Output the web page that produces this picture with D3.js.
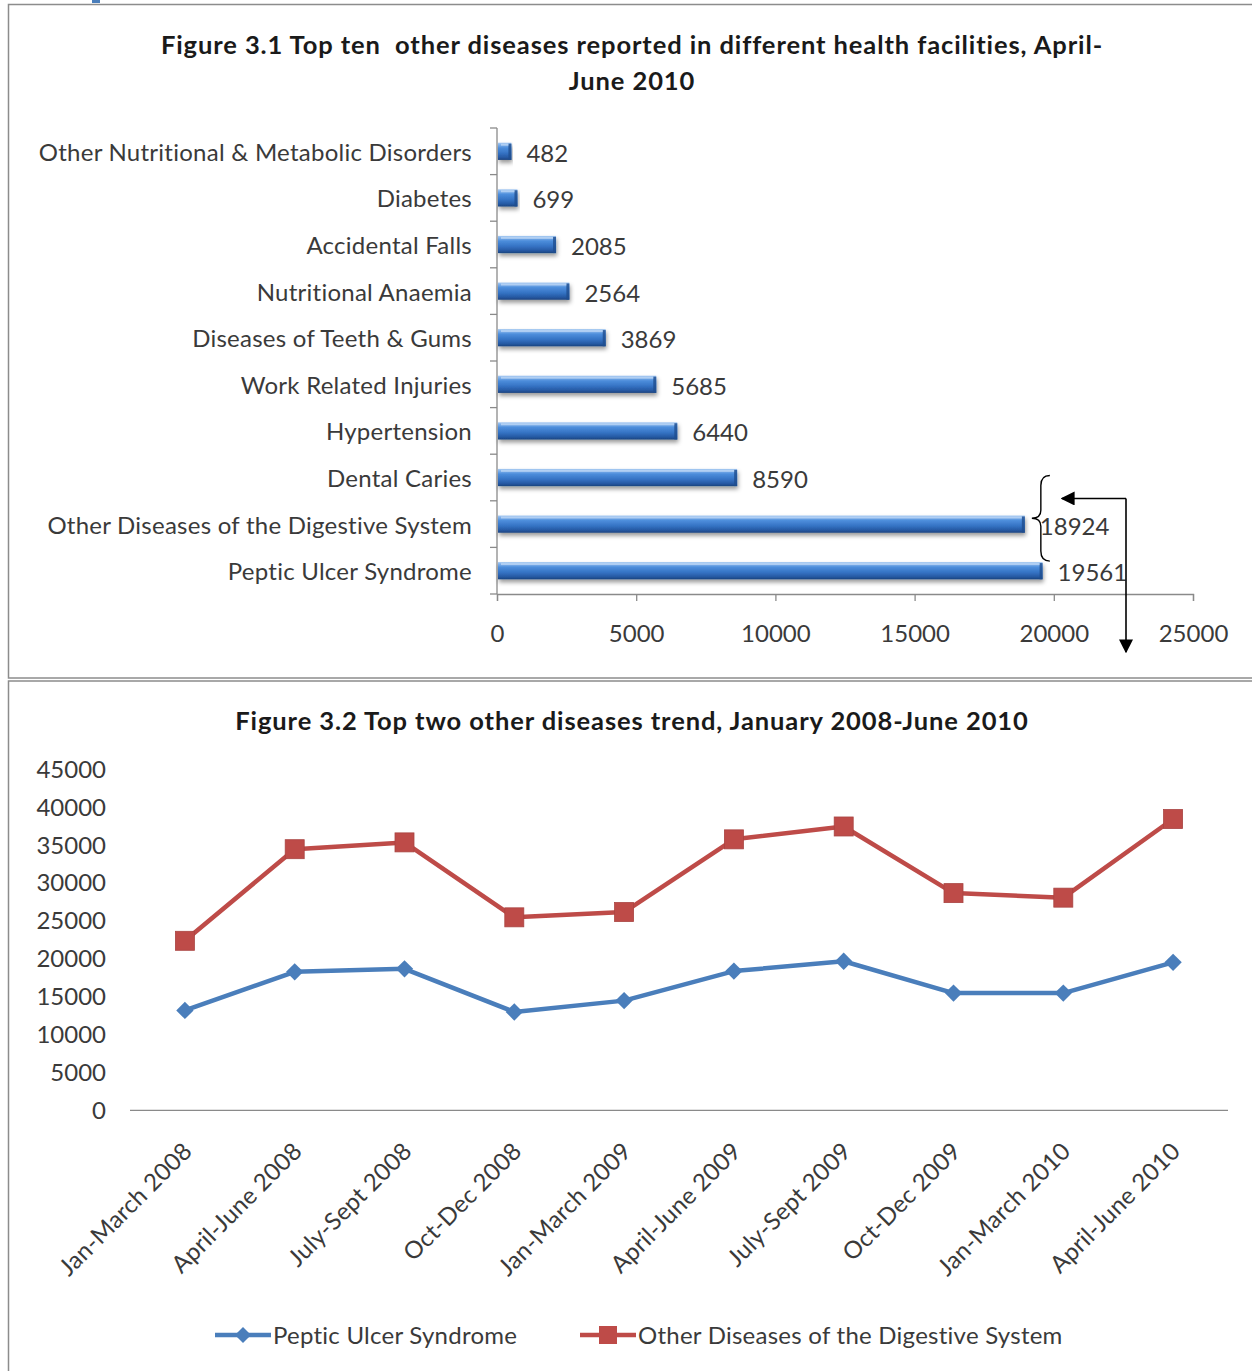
<!DOCTYPE html>
<html>
<head>
<meta charset="utf-8">
<script src="https://cdn.jsdelivr.net/npm/d3@7/dist/d3.min.js"></script>
<style>
  html, body { margin: 0; padding: 0; background: #fff; }
  svg { display: block; }
  text { font-family: Lato, "Open Sans", sans-serif; }
</style>
</head>
<body>
<svg id="page" width="1252" height="1371"></svg>
<script>
// ---- Figure 3.1 data: top ten other diseases, April-June 2010 ----
const diseases = [
  "Other Nutritional & Metabolic Disorders",
  "Diabetes",
  "Accidental Falls",
  "Nutritional Anaemia",
  "Diseases of Teeth & Gums",
  "Work Related Injuries",
  "Hypertension",
  "Dental Caries",
  "Other Diseases of the Digestive System",
  "Peptic Ulcer Syndrome"
];
const diseaseCases = [482, 699, 2085, 2564, 3869, 5685, 6440, 8590, 18924, 19561];
const barTicks = [0, 5000, 10000, 15000, 20000, 25000];

// ---- Figure 3.2 data: quarterly trend of the top two, stacked ----
const periods = [
  "Jan-March 2008", "April-June 2008", "July-Sept 2008", "Oct-Dec 2008",
  "Jan-March 2009", "April-June 2009", "July-Sept 2009", "Oct-Dec 2009",
  "Jan-March 2010", "April-June 2010"
];
const pepticUlcer = [13200, 18300, 18700, 13000, 14500, 18400, 19700, 15500, 15500, 19561];
const otherDigestive = [9200, 16200, 16700, 12500, 11700, 17400, 17800, 13200, 12600, 18924];
const trendTicks = [0, 5000, 10000, 15000, 20000, 25000, 30000, 35000, 40000, 45000];
const seriesNames = ["Peptic Ulcer Syndrome", "Other Diseases of the Digestive System"];

const svg = d3.select("#page");
const textColor = "#3a3a3a";
const axisColor = "#8a8a8a";
const labelSize = 24;
const labelSpacing = 0.25;
const titleSize = 25.5;
const titleSpacing = 0.9;

// ---- defs: bar gradient, bar shadow, arrow head ----
const defs = svg.append("defs");
const grad = defs.append("linearGradient").attr("id", "barGrad")
  .attr("x1", 0).attr("y1", 0).attr("x2", 0).attr("y2", 1);
[[0, "#a9cbf2"], [0.12, "#7fb0ea"], [0.3, "#4c8ddb"], [0.6, "#3573c4"], [0.85, "#2659a3"], [1, "#1b447f"]]
  .forEach(([o, c]) => grad.append("stop").attr("offset", o).attr("stop-color", c));
const shadow = defs.append("filter").attr("id", "barShadow")
  .attr("x", "-5%").attr("y", "-50%").attr("width", "115%").attr("height", "250%");
shadow.append("feDropShadow").attr("dx", 1).attr("dy", 3).attr("stdDeviation", 2)
  .attr("flood-color", "#000").attr("flood-opacity", 0.4);
defs.append("marker").attr("id", "arrowHead")
  .attr("viewBox", "0 0 10 10").attr("refX", 9).attr("refY", 5)
  .attr("markerWidth", 14).attr("markerHeight", 14).attr("markerUnits", "userSpaceOnUse")
  .attr("orient", "auto")
  .append("path").attr("d", "M0,0 L10,5 L0,10 Z").attr("fill", "#000");

// small page fragment above the frames
svg.append("rect").attr("x", 92).attr("y", 0).attr("width", 8).attr("height", 3).attr("fill", "#4a7ebb");

// panel frames
svg.append("rect").attr("x", 8.5).attr("y", 4.5).attr("width", 1260).attr("height", 673.5)
  .attr("fill", "#fff").attr("stroke", "#8c8c8c").attr("stroke-width", 1.5);
svg.append("rect").attr("x", 8.5).attr("y", 681).attr("width", 1260).attr("height", 700)
  .attr("fill", "#fff").attr("stroke", "#8c8c8c").attr("stroke-width", 1.5);

function title(g, y, s) {
  g.append("text").attr("x", 632).attr("y", y).attr("text-anchor", "middle")
    .attr("dominant-baseline", "central").attr("font-size", titleSize).attr("font-weight", "bold")
    .attr("letter-spacing", titleSpacing).attr("fill", "#1a1a1a")
    .style("white-space", "pre").text(s);
}

// ================= Figure 3.1: horizontal bar chart =================
const g1 = svg.append("g");
title(g1, 43.5, "Figure 3.1 Top ten  other diseases reported in different health facilities, April-");
title(g1, 79.5, "June 2010");

const xBar = d3.scaleLinear().domain([0, 25000]).range([497, 1193]);
const yBar = d3.scaleBand().domain(diseases).range([128, 594]).paddingInner(0.63).paddingOuter(0.315);

// category axis: vertical line with ticks at band boundaries
g1.append("line").attr("x1", 497).attr("x2", 497).attr("y1", 128).attr("y2", 594)
  .attr("stroke", axisColor).attr("stroke-width", 1.3);
const step = yBar.step();
const boundaries = d3.range(diseases.length + 1).map(i => 128 + i * step);
g1.selectAll(".ytick").data(boundaries).join("line")
  .attr("x1", 490).attr("x2", 497).attr("y1", d => d).attr("y2", d => d)
  .attr("stroke", axisColor).attr("stroke-width", 1.3);

// value axis
const xAxis1 = d3.axisBottom(xBar).tickValues(barTicks).tickSize(7).tickPadding(27).tickFormat(d3.format("d"));
const ax1 = g1.append("g").attr("transform", "translate(0,594)").call(xAxis1);
ax1.select(".domain").attr("stroke", axisColor).attr("stroke-width", 1.3);
ax1.selectAll(".tick line").attr("stroke", axisColor).attr("stroke-width", 1.3);
ax1.selectAll(".tick text").attr("font-size", labelSize).attr("fill", textColor)
  .attr("font-family", "Lato, sans-serif").attr("dy", "0.6em");

// category labels
g1.selectAll(".cat").data(diseases).join("text")
  .attr("x", 472).attr("y", d => yBar(d) + yBar.bandwidth() / 2)
  .attr("text-anchor", "end").attr("dominant-baseline", "central")
  .attr("font-size", labelSize).attr("letter-spacing", labelSpacing).attr("fill", textColor).text(d => d);

// bars
const bars = g1.selectAll(".bar").data(diseases.map((d, i) => ({ name: d, value: diseaseCases[i] }))).join("g");
bars.append("rect")
  .attr("x", xBar(0) + 1).attr("y", d => yBar(d.name))
  .attr("width", d => xBar(d.value) - xBar(0)).attr("height", yBar.bandwidth())
  .attr("fill", "url(#barGrad)").attr("filter", "url(#barShadow)");
// bevel at the bar end
bars.append("rect")
  .attr("x", d => xBar(d.value) - 2).attr("y", d => yBar(d.name) + 1)
  .attr("width", 3).attr("height", yBar.bandwidth() - 1)
  .attr("fill", "#1f4d8e").attr("opacity", 0.8);
// top highlight
bars.append("rect")
  .attr("x", xBar(0) + 4).attr("y", d => yBar(d.name) + 1)
  .attr("width", d => Math.max(0, xBar(d.value) - xBar(0) - 6)).attr("height", 2)
  .attr("fill", "#c4dcf7").attr("opacity", 0.7);

// value labels
g1.selectAll(".val").data(diseaseCases).join("text")
  .attr("x", d => xBar(d) + 16)
  .attr("y", (d, i) => yBar(diseases[i]) + yBar.bandwidth() / 2 + 1)
  .attr("dominant-baseline", "central").attr("font-size", labelSize).attr("fill", textColor)
  .text(d => d);

// brace grouping the two digestive categories, with arrow down to the trend chart
const yTopBrace = yBar(diseases[8]) - 40;
const yBotBrace = yBar(diseases[9]) - 1;
const yMid = (yTopBrace + yBotBrace) / 2;
const bx = xBar(18924) + 17;
g1.append("path")
  .attr("d", `M${bx + 9},${yTopBrace} Q${bx},${yTopBrace} ${bx},${yTopBrace + 10} L${bx},${yMid - 8} Q${bx},${yMid} ${bx - 9},${yMid} Q${bx},${yMid} ${bx},${yMid + 8} L${bx},${yBotBrace - 10} Q${bx},${yBotBrace} ${bx + 9},${yBotBrace}`)
  .attr("fill", "none").attr("stroke", "#000").attr("stroke-width", 1.4);
const ax = 1126, ay = yTopBrace + 23;
g1.append("line").attr("x1", ax).attr("y1", ay).attr("x2", 1062).attr("y2", ay)
  .attr("stroke", "#000").attr("stroke-width", 1.6).attr("marker-end", "url(#arrowHead)");
g1.append("line").attr("x1", ax).attr("y1", ay).attr("x2", ax).attr("y2", 652)
  .attr("stroke", "#000").attr("stroke-width", 1.6).attr("marker-end", "url(#arrowHead)");

// ================= Figure 3.2: stacked line chart =================
const g2 = svg.append("g");
title(g2, 719.5, "Figure 3.2 Top two other diseases trend, January 2008-June 2010");

const xLine = d3.scaleBand().domain(periods).range([130, 1228]);
const xc = p => xLine(p) + xLine.bandwidth() / 2;
const yLine = d3.scaleLinear().domain([0, 45000]).range([1110.4, 769.7]);

const table = periods.map((p, i) => ({ period: p, peptic: pepticUlcer[i], other: otherDigestive[i] }));
const stacked = d3.stack().keys(["peptic", "other"])(table);

// value axis labels (no axis line)
const yAxis2 = d3.axisLeft(yLine).tickValues(trendTicks).tickSize(0).tickPadding(0).tickFormat(d3.format("d"));
const ay2 = g2.append("g").attr("transform", "translate(106,0)").call(yAxis2);
ay2.select(".domain").remove();
ay2.selectAll(".tick text").attr("font-size", labelSize).attr("fill", textColor).attr("font-family", "Lato, sans-serif");

// category axis line
g2.append("line").attr("x1", 130).attr("x2", 1228).attr("y1", yLine(0)).attr("y2", yLine(0))
  .attr("stroke", axisColor).attr("stroke-width", 1.3);

// rotated period labels
g2.selectAll(".per").data(periods).join("text")
  .attr("transform", d => `translate(${xc(d) + 2},${1146}) rotate(-45)`)
  .attr("text-anchor", "end").attr("dominant-baseline", "central")
  .attr("font-size", labelSize).attr("letter-spacing", labelSpacing).attr("fill", textColor).text(d => d);

const colors = ["#4a7ebb", "#be4b48"];
const line = d3.line().x(d => xc(d.data.period)).y(d => yLine(d[1]));

stacked.forEach((s, k) => {
  g2.append("path").datum(s).attr("d", line)
    .attr("fill", "none").attr("stroke", colors[k]).attr("stroke-width", 4.5)
    .attr("stroke-linejoin", "round");
});
// diamond markers for Peptic Ulcer
const diamond = d3.symbol().type(d3.symbolSquare).size(150);
g2.selectAll(".dia").data(stacked[0]).join("path")
  .attr("d", diamond())
  .attr("transform", d => `translate(${xc(d.data.period)},${yLine(d[1])}) rotate(45)`)
  .attr("fill", colors[0]);
// square markers for Other Diseases of the Digestive System
g2.selectAll(".sq").data(stacked[1]).join("rect")
  .attr("x", d => xc(d.data.period) - 9.5).attr("y", d => yLine(d[1]) - 9.5)
  .attr("width", 19).attr("height", 19)
  .attr("fill", colors[1]).attr("stroke", "#a94442").attr("stroke-width", 0.8);

// legend
const legend = g2.append("g");
const ly = 1335;
const legendItems = [
  { name: seriesNames[0], x0: 215, color: colors[0], shape: "diamond" },
  { name: seriesNames[1], x0: 580, color: colors[1], shape: "square" }
];
legendItems.forEach(it => {
  legend.append("line").attr("x1", it.x0).attr("x2", it.x0 + 56).attr("y1", ly).attr("y2", ly)
    .attr("stroke", it.color).attr("stroke-width", 4.5);
  if (it.shape === "diamond") {
    legend.append("path").attr("d", d3.symbol().type(d3.symbolSquare).size(130)())
      .attr("transform", `translate(${it.x0 + 28},${ly}) rotate(45)`).attr("fill", it.color);
  } else {
    legend.append("rect").attr("x", it.x0 + 19).attr("y", ly - 9).attr("width", 18).attr("height", 18)
      .attr("fill", it.color);
  }
  legend.append("text").attr("x", it.x0 + 58).attr("y", ly - 1).attr("dominant-baseline", "central")
    .attr("font-size", labelSize).attr("letter-spacing", labelSpacing).attr("fill", textColor).text(it.name);
});
</script>
</body>
</html>
